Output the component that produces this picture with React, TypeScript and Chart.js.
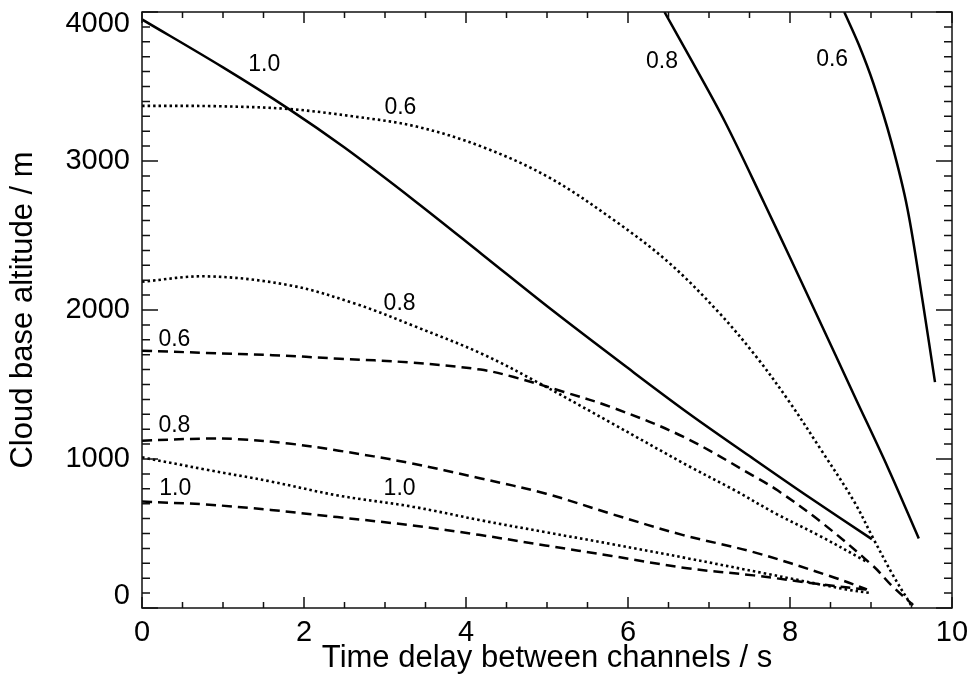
import React, { useEffect, useRef } from 'react';
import { Chart, registerables } from 'chart.js';

Chart.register(...registerables);

// ---- axis settings ----
const xMin = 0;
const xMax = 10;
const xMajorStep = 2;
const xMinorStep = 0.5;
const yMin = 0;
const yMax = 4000;
const yMajorStep = 1000;
const yMinorStep = 100;
const xTitle = 'Time delay between channels / s';
const yTitle = 'Cloud base altitude / m';

// ---- solid curves ----
const solid10X = [0, 1, 1.81, 2.5, 3.38, 4.2, 5.07, 6, 6.75, 7.5, 8.2, 9.01];
const solid10Y = [3950, 3628, 3350, 3090, 2727, 2373, 1996, 1610, 1306, 1020, 757, 462];
const solid08X = [6.45, 6.8, 7.2, 7.68, 8.0, 8.32, 8.8, 9.21, 9.59];
const solid08Y = [4000, 3660, 3260, 2720, 2352, 1980, 1418, 940, 467];
const solid06X = [8.67, 8.85, 9.03, 9.25, 9.45, 9.64, 9.79];
const solid06Y = [4000, 3780, 3520, 3130, 2680, 2050, 1516];

// ---- dotted curves ----
const dotted06X = [0, 0.9, 1.81, 2.6, 3.39, 4.21, 5.03, 5.85, 6.5, 7.11, 7.58, 7.98, 8.39, 8.79, 9.03, 9.28, 9.5];
const dotted06Y = [3370, 3368, 3349, 3300, 3231, 3093, 2888, 2594, 2320, 1990, 1689, 1393, 1056, 716, 465, 212, 15];
const dotted08X = [0, 0.8, 1.83, 2.65, 3.37, 4.2, 4.9, 5.8, 6.74, 7.31, 7.84, 8.36, 8.95];
const dotted08Y = [2190, 2226, 2165, 2039, 1890, 1705, 1510, 1240, 955, 792, 629, 486, 310];
const dotted10X = [0, 0.78, 1.6, 2.42, 3.34, 4.16, 4.98, 5.81, 6.73, 7.7, 8.7, 9.0];
const dotted10Y = [1011, 930, 848, 755, 680, 591, 509, 428, 334, 231, 124, 100];

// ---- dashed curves ----
const dashed06X = [0, 0.8, 1.61, 2.44, 3.3, 4.18, 4.59, 5.21, 5.82, 6.68, 7.57, 7.85, 8.4, 9.03, 9.25, 9.52];
const dashed06Y = [1727, 1712, 1697, 1673, 1648, 1600, 1550, 1450, 1343, 1150, 880, 788, 570, 280, 153, 20];
const dashed08X = [0, 0.78, 1.19, 1.81, 2.43, 3.29, 4.17, 4.99, 5.81, 6.67, 7.55, 8.49, 8.95];
const dashed08Y = [1123, 1137, 1133, 1104, 1056, 975, 871, 767, 629, 491, 375, 215, 125];
const dashed10X = [0, 0.78, 1.59, 2.41, 3.34, 4.16, 4.98, 5.8, 6.73, 7.55, 8.37, 9.01];
const dashed10Y = [714, 695, 658, 610, 554, 491, 420, 349, 267, 219, 160, 119];

// ---- curve annotations ----
const curveLabelText = ['1.0', '0.8', '0.6', '0.6', '0.8', '1.0', '0.6', '0.8', '1.0'];
const curveLabelX = [1.51, 6.42, 8.52, 3.19, 3.18, 3.18, 0.4, 0.4, 0.41];
const curveLabelY = [3649, 3669, 3682, 3357, 2043, 804, 1802, 1226, 804];

const FONT = '"Liberation Sans", Arial, Helvetica, sans-serif';

const toPoints = (xs: number[], ys: number[]) => xs.map((x, i) => ({ x, y: ys[i] }));

const SOLID: number[] = [];
const DOTTED = [2.5, 3];
const DASHED = [10, 6];

const makeSet = (xs: number[], ys: number[], dash: number[], width: number) => ({
  data: toPoints(xs, ys),
  showLine: true,
  borderColor: '#000',
  backgroundColor: '#000',
  borderWidth: width,
  borderDash: dash,
  pointRadius: 0,
  tension: 0.35,
  fill: false,
});

const frameTicks = {
  id: 'frameTicks',
  afterDraw(chart: any) {
    const { ctx, chartArea, scales } = chart;
    const { left, right, top, bottom } = chartArea;
    const x = scales.x;
    const y = scales.y;
    ctx.save();
    ctx.strokeStyle = '#111';
    ctx.lineWidth = 1.5;
    ctx.strokeRect(left, top, right - left, bottom - top);
    ctx.beginPath();
    const nX = Math.round((xMax - xMin) / xMinorStep);
    for (let i = 0; i <= nX; i++) {
      const v = xMin + i * xMinorStep;
      const px = x.getPixelForValue(v);
      const major = Math.abs(v / xMajorStep - Math.round(v / xMajorStep)) < 1e-9;
      const len = major ? 11 : 6;
      ctx.moveTo(px, bottom);
      ctx.lineTo(px, bottom - len);
      ctx.moveTo(px, top);
      ctx.lineTo(px, top + len);
    }
    const nY = Math.round((yMax - yMin) / yMinorStep);
    for (let i = 0; i <= nY; i++) {
      const v = yMin + i * yMinorStep;
      const py = y.getPixelForValue(v);
      const major = v % yMajorStep === 0;
      const len = major ? 16 : 8;
      ctx.moveTo(left, py);
      ctx.lineTo(left + len, py);
      ctx.moveTo(right, py);
      ctx.lineTo(right - len, py);
    }
    ctx.stroke();
    ctx.restore();
  },
};

const curveLabels = {
  id: 'curveLabels',
  afterDatasetsDraw(chart: any) {
    const { ctx, scales } = chart;
    ctx.save();
    ctx.fillStyle = '#000';
    ctx.font = `23px ${FONT}`;
    ctx.textAlign = 'center';
    ctx.textBaseline = 'middle';
    curveLabelText.forEach((t, i) => {
      ctx.fillText(t, scales.x.getPixelForValue(curveLabelX[i]), scales.y.getPixelForValue(curveLabelY[i]));
    });
    ctx.restore();
  },
};

export default function App() {
  const canvasRef = useRef<HTMLCanvasElement | null>(null);

  useEffect(() => {
    if (!canvasRef.current) return;
    const chart = new Chart(canvasRef.current, {
      type: 'scatter',
      data: {
        datasets: [
          makeSet(solid10X, solid10Y, SOLID, 2.5),
          makeSet(solid08X, solid08Y, SOLID, 2.5),
          makeSet(solid06X, solid06Y, SOLID, 2.5),
          makeSet(dotted06X, dotted06Y, DOTTED, 2.6),
          makeSet(dotted08X, dotted08Y, DOTTED, 2.6),
          makeSet(dotted10X, dotted10Y, DOTTED, 2.6),
          makeSet(dashed06X, dashed06Y, DASHED, 2.5),
          makeSet(dashed08X, dashed08Y, DASHED, 2.5),
          makeSet(dashed10X, dashed10Y, DASHED, 2.5),
        ] as any,
      },
      options: {
        responsive: false,
        animation: false,
        devicePixelRatio: 1,
        layout: { padding: { top: 12, right: 27, bottom: 0, left: 0 } },
        plugins: {
          legend: { display: false },
          tooltip: { enabled: false },
        },
        scales: {
          x: {
            type: 'linear',
            min: xMin,
            max: xMax,
            grid: { display: false, drawTicks: false },
            border: { display: false },
            ticks: {
              stepSize: xMajorStep,
              color: '#000',
              font: { family: FONT, size: 29 },
              padding: 8,
              maxRotation: 0,
              autoSkip: false,
            },
            title: {
              display: true,
              text: xTitle,
              color: '#000',
              font: { family: FONT, size: 31, lineHeight: 1.2 },
              padding: { top: 0, bottom: 15 },
            },
            afterFit: (scale: any) => {
              scale.height = 84;
              scale.paddingLeft = 0;
              scale.paddingRight = 0;
            },
          },
          y: {
            type: 'linear',
            min: yMin,
            max: yMax,
            grid: { display: false, drawTicks: false },
            border: { display: false },
            ticks: {
              stepSize: yMajorStep,
              color: '#000',
              font: { family: FONT, size: 29, lineHeight: 0.85 },
              padding: 12,
              callback: (v: any) => {
                if (v === yMax) return ['', String(v)];
                if (v === yMin) return [String(v), ''];
                return String(v);
              },
            },
            title: {
              display: true,
              text: yTitle,
              color: '#000',
              font: { family: FONT, size: 31, lineHeight: 1.2 },
              padding: { top: 5, bottom: 0 },
            },
            afterFit: (scale: any) => {
              scale.width = 142;
              scale.paddingTop = 0;
              scale.paddingBottom = 0;
            },
          },
        },
      } as any,
      plugins: [frameTicks, curveLabels],
    });
    return () => chart.destroy();
  }, []);

  return (
    <div style={{ position: 'absolute', left: 0, top: 0, width: 979, height: 692, background: '#fff' }}>
      <canvas ref={canvasRef} width={979} height={692} />
    </div>
  );
}
